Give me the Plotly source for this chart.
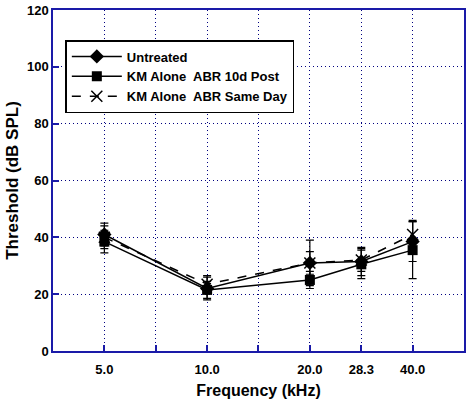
import plotly.graph_objects as go

freqs = [5.0, 10.0, 20.0, 28.3, 40.0]
tick_vals = [5.0, 7.07, 10.0, 14.14, 20.0, 28.3, 40.0]
tick_text = ["5.0", "", "10.0", "", "20.0", "28.3", "40.0"]

untreated = [41, 22, 31, 31.5, 38.5]
untreated_err = [4, 4, 8, 5, 7]
post10d = [38.5, 21.5, 25, 30.5, 35.5]
post10d_err = [4, 3, 3, 5, 10]
sameday = [40, 23.5, 31, 32, 41]
sameday_err = [4, 3, 4, 4, 5]

AX = "#1a1aa8"
GRID = "#000080"
FONT = "Liberation Sans"

fig = go.Figure()

def add(name, y, err, symbol, size, dash, mline):
    fig.add_trace(go.Scatter(
        x=freqs, y=y, name=name, mode="lines+markers",
        line=dict(color="black", width=1.5, dash=dash),
        marker=dict(symbol=symbol, size=size, color="black",
                    line=dict(color="black", width=mline)),
        error_y=dict(type="data", array=err, visible=True, color="black",
                     thickness=1.2, width=4),
    ))

add("Untreated", untreated, untreated_err, "diamond", 11, "solid", 0)
add("KM Alone  ABR 10d Post", post10d, post10d_err, "square", 10, "solid", 0)
add("KM Alone  ABR Same Day", sameday, sameday_err, "x-thin-open", 11, "dash", 1.5)

fig.update_layout(
    width=468, height=404,
    margin=dict(l=53, r=4, t=10, b=53, autoexpand=False),
    paper_bgcolor="white", plot_bgcolor="white",
    font=dict(family=FONT, color="black", size=12),
    showlegend=True,
    legend=dict(
        x=0.03, y=0.912, xanchor="left", yanchor="top",
        bgcolor="white", bordercolor="black", borderwidth=1.5,
        font=dict(family=FONT, size=13, weight="bold"),
        tracegroupgap=0, itemwidth=50,
    ),
    xaxis=dict(
        type="log", range=[0.5485, 1.7526], automargin=False,
        tickvals=tick_vals, ticktext=tick_text,
        showline=True, linecolor=AX, linewidth=1.5, mirror=True,
        ticks="inside", ticklen=6, tickcolor=AX, tickwidth=1.5,
        ticklabelstandoff=6,
        showgrid=True, gridcolor=GRID, griddash="1px,3px", gridwidth=1,
        zeroline=False,
        tickfont=dict(family=FONT, size=13, weight="bold"),
        title=dict(text="Frequency (kHz)", font=dict(family=FONT, size=16, weight="bold"), standoff=8),
    ),
    yaxis=dict(
        range=[0, 120], tickvals=[0, 20, 40, 60, 80, 100, 120], automargin=False,
        showline=True, linecolor=AX, linewidth=1.5, mirror=True,
        ticks="inside", ticklen=6, tickcolor=AX, tickwidth=1.5,
        showgrid=True, gridcolor=GRID, griddash="1px,3px", gridwidth=1,
        zeroline=False,
        tickfont=dict(family=FONT, size=13, weight="bold"),
        title=dict(text="Threshold (dB SPL)", font=dict(family=FONT, size=17, weight="bold"), standoff=4),
    ),
)

fig.write_html("out.html", config={"displayModeBar": False},
               post_script="document.body.style.margin='0';")
